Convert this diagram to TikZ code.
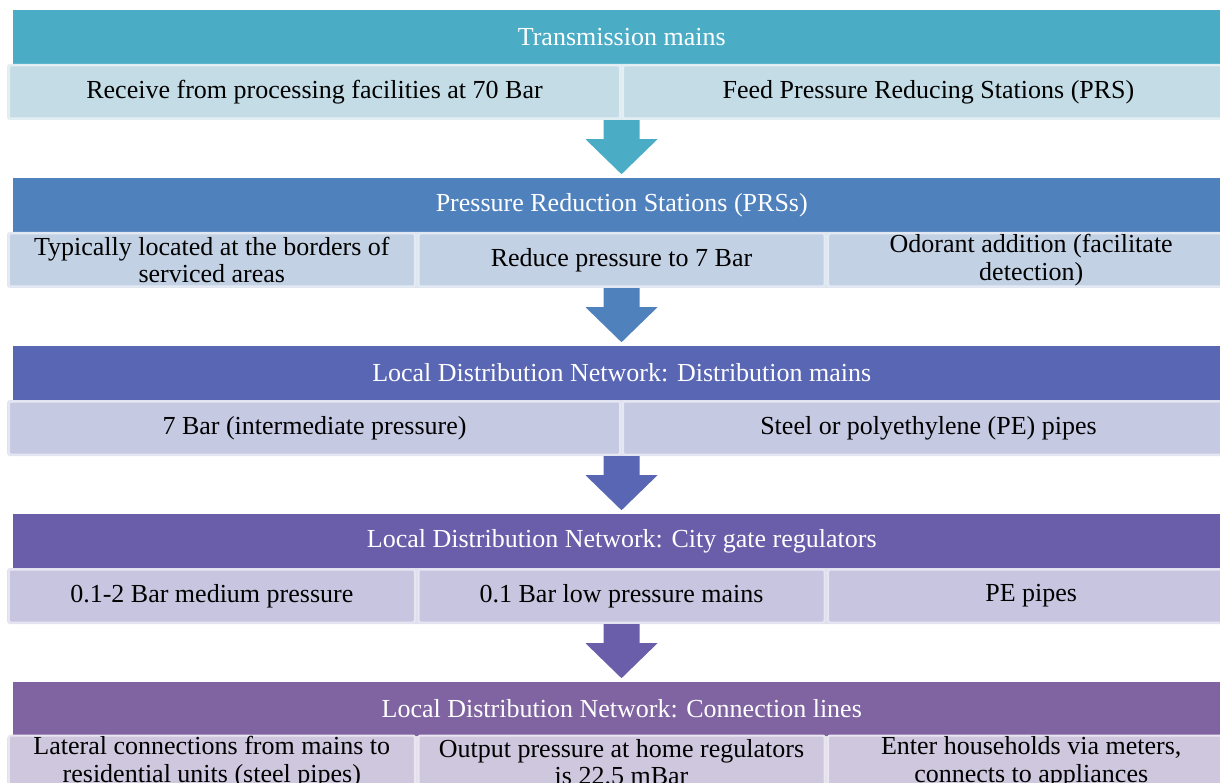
\documentclass[tikz,border=0pt]{standalone}
\usepackage{fontspec}
\setmainfont{Liberation Serif}
\usetikzlibrary{calc}
\definecolor{hA}{HTML}{4BACC6}\definecolor{sA}{HTML}{C4DCE6}
\definecolor{hB}{HTML}{4F81BD}\definecolor{sB}{HTML}{C3D1E4}
\definecolor{hC}{HTML}{5866B3}\definecolor{sC}{HTML}{C5C9E2}
\definecolor{hD}{HTML}{6A5DAA}\definecolor{sD}{HTML}{C8C5E0}
\definecolor{hE}{HTML}{8064A2}\definecolor{sE}{HTML}{CFC7DE}
\tikzset{
  hdr/.style={rectangle, inner sep=0pt, minimum width=1218.5pt, minimum height=54pt,
    text=white, font=\fontsize{26}{28}\selectfont},
  rowbg/.style={rectangle, inner sep=0pt, minimum width=1229pt, minimum height=56pt,
    rounded corners=3pt, fill=#1!55!white},
  cell/.style={rectangle, inner sep=0pt, minimum height=53pt, rounded corners=2pt,
    fill=#1, draw=#1!45!white, line width=2pt, align=center,
    font=\fontsize{26}{27.5}\selectfont},
  twocell/.style={cell=#1, minimum width=611pt},
  threecell/.style={cell=#1, minimum width=406pt},
}
\newcommand{\flowarrow}[2]{%
  \fill[#1] ($(#2.south)+(-18,0)$) -- ++(36,0) -- ++(0,19) -- ++(18,0)
    -- ++(-36,35) -- ++(-36,-35) -- ++(18,0) -- cycle;}
\begin{document}
\begin{tikzpicture}[x=1pt,y=-1pt]
\useasboundingbox (0,0) rectangle (1220,783);
\clip (0,0) rectangle (1220,783);
% band 1
\node[hdr, fill=hA] (h1) at (621.75,37) {Transmission mains};
\node[rowbg=sA] (r1) at (621.5,92) {};
\node[twocell=sA] (c11) at (314.5,92) {Receive from processing facilities at 70 Bar};
\node[twocell=sA] (c12) at (928.5,92) {Feed Pressure Reducing Stations (PRS)};
\flowarrow{hA}{r1}
% band 2
\node[hdr, fill=hB] (h2) at (621.75,205) {Pressure Reduction Stations (PRSs)};
\node[rowbg=sB] (r2) at (621.5,260) {};
\node[threecell=sB] (c21) at (211.8,260) {Typically located at the borders of\\serviced areas};
\node[threecell=sB] (c22) at (621.5,260) {Reduce pressure to 7 Bar};
\node[threecell=sB] (c23) at (1031.2,260) {Odorant addition (facilitate\\detection)};
\flowarrow{hB}{r2}
% band 3
\node[hdr, fill=hC] (h3) at (621.75,373) {Local Distribution Network: Distribution mains};
\node[rowbg=sC] (r3) at (621.5,428) {};
\node[twocell=sC] (c31) at (314.5,428) {7 Bar (intermediate pressure)};
\node[twocell=sC] (c32) at (928.5,428) {Steel or polyethylene (PE) pipes};
\flowarrow{hC}{r3}
% band 4
\node[hdr, fill=hD] (h4) at (621.75,541) {Local Distribution Network: City gate regulators};
\node[rowbg=sD] (r4) at (621.5,596) {};
\node[threecell=sD] (c41) at (211.8,596) {0.1-2 Bar medium pressure};
\node[threecell=sD] (c42) at (621.5,596) {0.1 Bar low pressure mains};
\node[threecell=sD] (c43) at (1031.2,596) {PE pipes};
\flowarrow{hD}{r4}
% band 5
\node[hdr, fill=hE] (h5) at (621.75,709) {Local Distribution Network: Connection lines};
\node[rowbg=sE] (r5) at (621.5,764) {};
\node[threecell=sE] (c51) at (211.8,762) {Lateral connections from mains to\\residential units (steel pipes)};
\node[threecell=sE] (c52) at (621.5,762) {Output pressure at home regulators\\is 22.5 mBar};
\node[threecell=sE] (c53) at (1031.2,762) {Enter households via meters,\\connects to appliances};
\end{tikzpicture}
\end{document}
